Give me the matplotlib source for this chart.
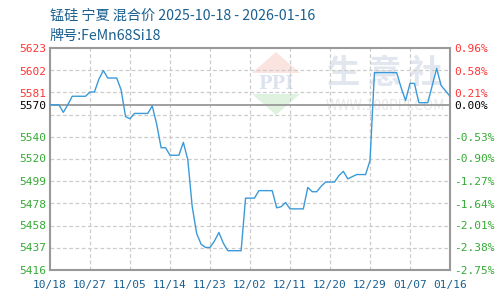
import matplotlib
matplotlib.use("Agg")
import matplotlib.pyplot as plt
import numpy as np
from matplotlib.patches import Polygon

plt.rcParams['font.family'] = ['Noto Sans CJK SC', 'DejaVu Sans']

title1 = "锰硅 宁夏 混合价 2025-10-18 - 2026-01-16"
title2 = "牌号:FeMn68Si18"
base = 5570
x_labels = ["10/18", "10/27", "11/05", "11/14", "11/23", "12/02", "12/11",
            "12/20", "12/29", "01/07", "01/16"]
y_ticks = [5416, 5437, 5458, 5478, 5499, 5520, 5540, 5581, 5602, 5623]
pct_labels = ["-2.75%", "-2.38%", "-2.01%", "-1.64%", "-1.27%", "-0.90%",
              "-0.53%", "0.21%", "0.58%", "0.96%"]
prices = [5570, 5570, 5570, 5563, 5570, 5578, 5578, 5578, 5578, 5582,
          5582, 5594, 5602, 5595, 5595, 5595, 5584, 5559, 5557, 5562,
          5562, 5562, 5562, 5569, 5552, 5530, 5530, 5523, 5523, 5523,
          5535, 5519, 5475, 5450, 5440, 5437, 5437, 5443, 5451, 5441,
          5434, 5434, 5434, 5434, 5483, 5483, 5483, 5490, 5490, 5490,
          5490, 5474, 5475, 5479, 5473, 5473, 5473, 5473, 5493, 5489,
          5489, 5494, 5498, 5498, 5498, 5504, 5508, 5501, 5503, 5505,
          5505, 5505, 5518, 5600, 5600, 5600, 5600, 5600, 5600, 5586,
          5574, 5590, 5590, 5572, 5572, 5572, 5588, 5604, 5588, 5583,
          5578]

fig = plt.figure(figsize=(5, 3), dpi=100)
ax = fig.add_axes([0.1, 0.1, 0.8, 0.74])
ax.set_facecolor("none")

ymin, ymax = 5416, 5623
days = np.arange(len(prices))
ax.set_xlim(0, 90)
ax.set_ylim(ymin, ymax)

def fpx(x, y):
    return (x / 500.0, 1 - y / 300.0)

tr = fig.transFigure
fig.patches.append(Polygon([fpx(276, 52), fpx(252, 73), fpx(300, 73)], closed=True,
                           transform=tr, facecolor="#fbe3e0", edgecolor="none", zorder=-2))
fig.patches.append(Polygon([fpx(252, 94), fpx(300, 94), fpx(276, 115)], closed=True,
                           transform=tr, facecolor="#dff2df", edgecolor="none", zorder=-2))
fig.text(276 / 500, 1 - 84 / 300, "PPI", ha="center", va="center", fontsize=13,
         color="#dde3ee", fontweight="bold", family="DejaVu Serif", zorder=-2)
fig.text(385 / 500, 1 - 74 / 300, "生 意 社", ha="center", va="center", fontsize=24,
         color="#e2e6ee", fontweight="bold", zorder=-2)
fig.text(385 / 500, 1 - 106 / 300, "WWW.100PPI.COM", ha="center", va="center",
         fontsize=10, color="#e8e8e8", zorder=-2)

grid_vals = np.linspace(ymin, ymax, 11)
for g in grid_vals[1:-1]:
    ax.axhline(g, color="#cccccc", lw=0.9, ls=(0, (3, 2)), zorder=1)
for xv in range(9, 90, 9):
    ax.axvline(xv, color="#cccccc", lw=0.9, ls=(0, (3, 2)), zorder=1)
ax.axhline(base, color="#999999", lw=1.3, zorder=2)

ax.plot(days, prices, color="#3a9ad9", lw=1.0, zorder=3)

for s in ax.spines.values():
    s.set_color("#999999")
    s.set_linewidth(1.5)

ax.set_xticks(range(0, 91, 9))
ax.set_xticklabels(x_labels, color="#1a5f8f", fontsize=8, family="DejaVu Sans Mono")
ax.tick_params(axis="x", length=0, pad=7)

ytk = y_ticks + [base]
ax.set_yticks(ytk)
ax.set_yticklabels([str(v) for v in ytk], fontsize=8, family="DejaVu Sans Mono")
ax.tick_params(axis="y", length=0, pad=22)
for lbl, v in zip(ax.get_yticklabels(), ytk):
    lbl.set_horizontalalignment("left")
    lbl.set_color("#ff3333" if v > base else ("#000000" if v == base else "#33aa33"))

ax2 = ax.twinx()
ax2.set_ylim(ymin, ymax)
ax2.set_yticks(ytk)
ax2.set_yticklabels(pct_labels + ["0.00%"], fontsize=8, family="DejaVu Sans Mono")
ax2.tick_params(axis="y", length=0, pad=3)
for lbl, v in zip(ax2.get_yticklabels(), ytk):
    lbl.set_color("#ff3333" if v > base else ("#000000" if v == base else "#33aa33"))
for s in ax2.spines.values():
    s.set_visible(False)

fig.text(50 / 500, 1 - 16 / 300, title1, ha="left", va="center", fontsize=10.2, color="#1a5f8f")
fig.text(50 / 500, 1 - 36 / 300, title2, ha="left", va="center", fontsize=10.2, color="#1a5f8f")

fig.savefig("out.png", dpi=100)
